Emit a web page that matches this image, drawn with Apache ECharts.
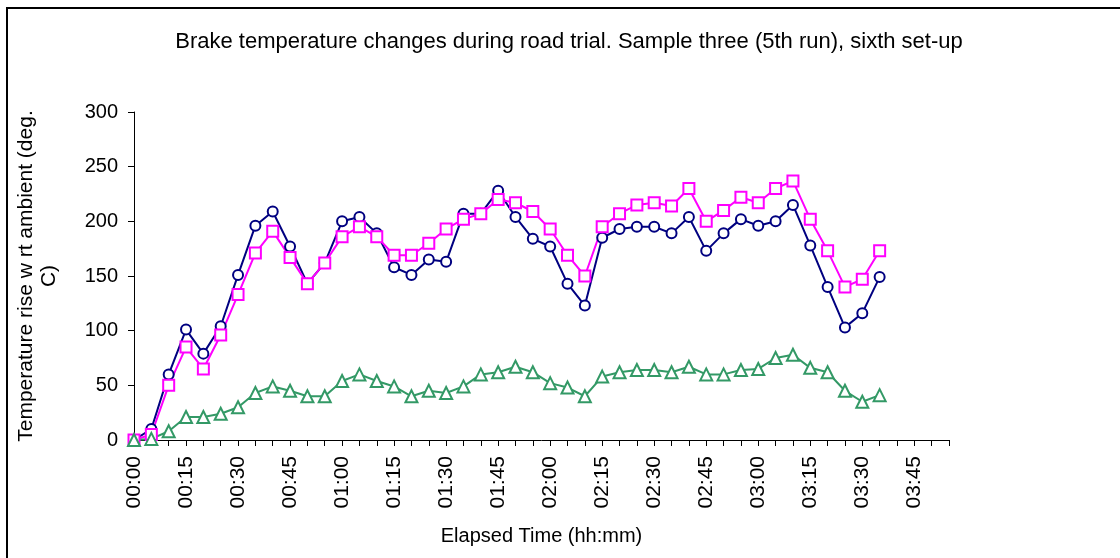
<!DOCTYPE html>
<html>
<head>
<meta charset="utf-8">
<script src="https://cdn.jsdelivr.net/npm/echarts@6/dist/echarts.min.js"></script>
<style>
  html, body { margin: 0; padding: 0; background: #fff; }
  #chart { width: 1120px; height: 558px; }
</style>
</head>
<body>
<div id="chart"></div>
<script>
// elapsed time categories, every 5 minutes
const times = [
  "00:00", "00:05", "00:10", "00:15", "00:20", "00:25", "00:30", "00:35",
  "00:40", "00:45", "00:50", "00:55", "01:00", "01:05", "01:10", "01:15",
  "01:20", "01:25", "01:30", "01:35", "01:40", "01:45", "01:50", "01:55",
  "02:00", "02:05", "02:10", "02:15", "02:20", "02:25", "02:30", "02:35",
  "02:40", "02:45", "02:50", "02:55", "03:00", "03:05", "03:10", "03:15",
  "03:20", "03:25", "03:30", "03:35", "03:40", "03:45", "03:50", "03:55"
];

// circles (navy)
const circleRun = [
  0, 10, 60, 101, 79, 104, 151, 196, 209, 177,
  143, 162, 200, 204, 189, 158, 151, 165, 163, 207,
  207, 228, 204, 184, 177, 143, 123, 185, 193, 195,
  195, 189, 204, 173, 189, 202, 196, 200, 215, 178,
  140, 103, 116, 149
];

// squares (magenta)
const squareRun = [
  0, 5, 50, 85, 65, 96, 133, 171, 191, 167,
  143, 162, 186, 195, 186, 169, 169, 180, 193, 202,
  207, 220, 217, 209, 193, 169, 150, 195, 207, 215,
  217, 214, 230, 200, 210, 222, 217, 230, 237, 202,
  173, 140, 147, 173
];

// triangles (green)
const triangleRun = [
  0, 1, 8, 21, 21, 24, 30, 43, 49, 45,
  40, 40, 54, 60, 54, 49, 40, 45, 43, 49,
  60, 62, 67, 62, 52, 48, 40, 58, 62, 64,
  64, 62, 67, 60, 60, 64, 65, 75, 78, 66,
  62, 45, 35, 41
];

const font = "'Liberation Sans', Arial, sans-serif";

const chart = echarts.init(document.getElementById("chart"));

const lineSeries = (name, data, color, symbol, size) => ({
  name: name,
  type: "line",
  data: data,
  symbol: symbol,
  symbolSize: size,
  showAllSymbol: true,
  animation: false,
  lineStyle: { color: color, width: 2 },
  itemStyle: { color: "#fff", borderColor: color, borderWidth: 2 },
});

chart.setOption({
  backgroundColor: "#fff",
  animation: false,
  graphic: [
    {
      type: "rect",
      shape: { x: 7, y: 8, width: 1300, height: 700 },
      style: { fill: "none", stroke: "#000", lineWidth: 2 },
      silent: true,
    },
    {
      type: "text",
      x: 569,
      y: 42,
      style: {
        text: "Brake temperature changes during road trial. Sample three (5th run), sixth set-up",
        font: "22px " + font,
        fill: "#000",
        align: "center",
        verticalAlign: "middle",
      },
    },
  ],
  grid: { left: 134, right: 171, top: 112, bottom: 118 },
  xAxis: {
    type: "category",
    data: times,
    boundaryGap: false,
    name: "Elapsed Time (hh:mm)",
    nameLocation: "middle",
    nameGap: 86,
    nameTextStyle: { fontFamily: font, fontSize: 20, color: "#000" },
    axisLine: { lineStyle: { color: "#000", width: 1 } },
    axisTick: { show: true, interval: 0, length: 6, lineStyle: { color: "#000" } },
    axisLabel: {
      interval: 2,
      rotate: 90,
      margin: 16,
      fontFamily: font,
      fontSize: 21,
      color: "#000",
    },
    splitLine: { show: false },
  },
  yAxis: {
    type: "value",
    min: 0,
    max: 300,
    interval: 50,
    name: "Temperature rise w rt ambient (deg.\nC)",
    nameLocation: "middle",
    nameRotate: 90,
    nameGap: 73,
    nameTextStyle: { fontFamily: font, fontSize: 21, color: "#000", lineHeight: 23, align: "center" },
    axisLine: { show: true, lineStyle: { color: "#000", width: 1 } },
    axisTick: { show: true, length: 6, lineStyle: { color: "#000" } },
    axisLabel: { margin: 16, fontFamily: font, fontSize: 20, color: "#000" },
    splitLine: { show: false },
  },
  series: [
    lineSeries("Circles", circleRun, "#000080", "circle", 10),
    lineSeries("Squares", squareRun, "#ff00ff", "rect", 11),
    lineSeries("Triangles", triangleRun, "#339966", "triangle", 12),
  ],
});
</script>
</body>
</html>
